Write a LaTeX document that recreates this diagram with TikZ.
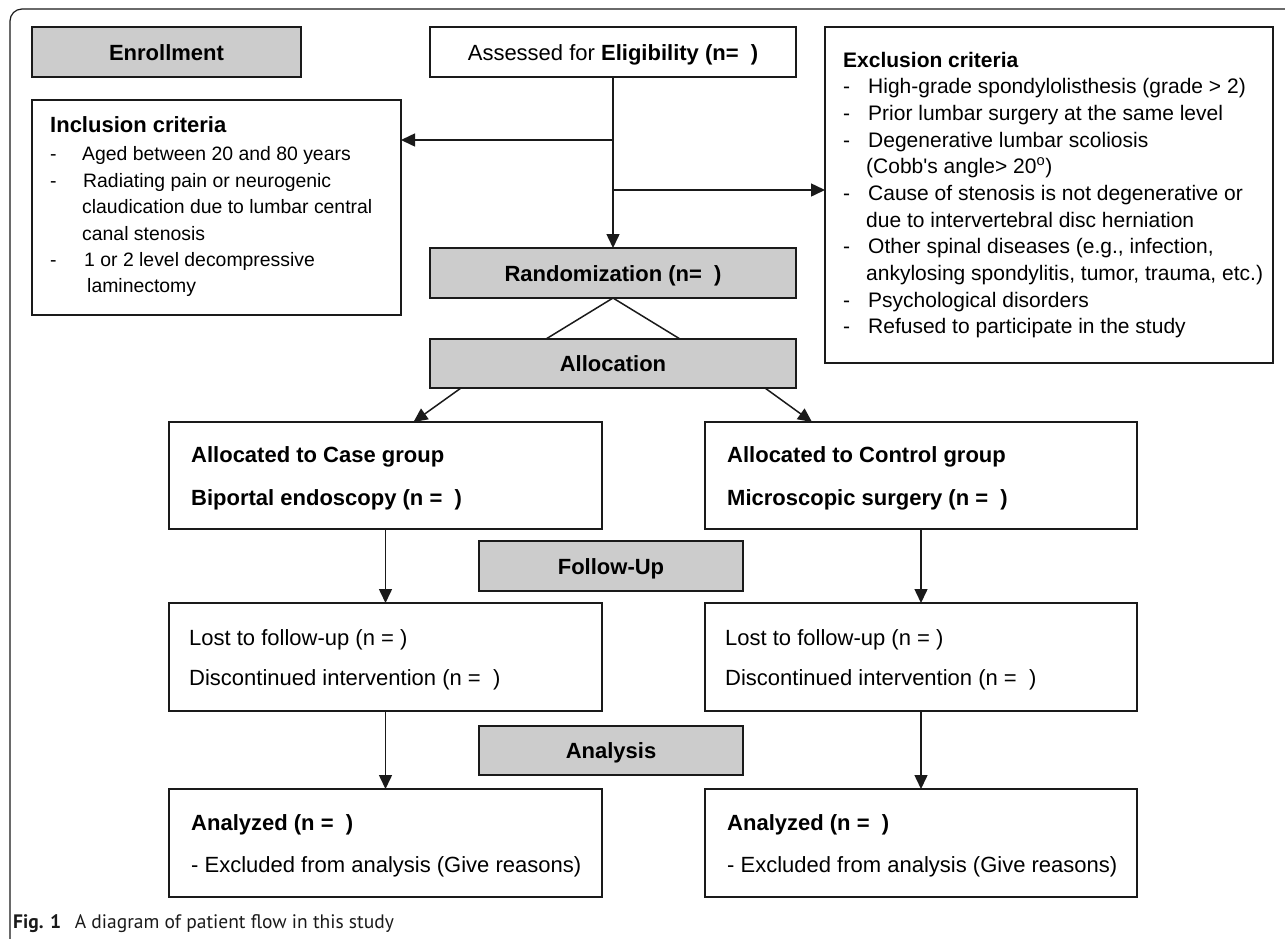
\documentclass[tikz,border=0pt]{standalone}
\usepackage{fontspec}
\setmainfont{Liberation Sans}
\newfontfamily\capfont{PT Sans}
\usetikzlibrary{arrows.meta}
\definecolor{boxgray}{HTML}{CCCCCC}
\definecolor{linecol}{HTML}{1A1A1A}
\begin{document}
\begin{tikzpicture}[x=1pt,y=-1pt,
  box/.style={draw=linecol, line width=1.6pt, fill=white, inner sep=0pt, outer sep=0pt,
              text height=16pt, text depth=0pt, font=\fontsize{22}{26}\selectfont},
  gbox/.style={box, fill=boxgray, font=\fontsize{22}{26}\selectfont\bfseries},
  arr/.style={line width=1.5pt, draw=linecol, -{Triangle[length=14pt,width=13pt]}},
  ln/.style={line width=1.5pt, draw=linecol},
  tx/.style={inner sep=0pt, anchor=base west, font=\fontsize{22}{26}\selectfont},
  bx/.style={inner sep=0pt, anchor=base west, font=\fontsize{22}{26}\selectfont\bfseries},
  ti/.style={inner sep=0pt, anchor=base west, font=\fontsize{19.4}{23}\selectfont},
  te/.style={inner sep=0pt, anchor=base west, font=\fontsize{21}{25}\selectfont},
  be/.style={inner sep=0pt, anchor=base west, font=\fontsize{21}{25}\selectfont\bfseries}
]
\useasboundingbox (0,0) rectangle (1285,938);
% outer frame
\draw[line width=1.2pt, draw=linecol, rounded corners=12pt] (10,940) -- (10,9) -- (1290,9);

% boxes
\node[gbox, minimum width=269pt, minimum height=50pt] (enroll) at (166.5,52) {Enrollment};
\node[box, minimum width=366pt, minimum height=50pt] (assess) at (613,52) {Assessed for \textbf{Eligibility (n=\ \ )}};
\node[box, minimum width=448pt, minimum height=336pt] (excl) at (1049,195) {};
\node[box, minimum width=369pt, minimum height=215pt] (incl) at (216.5,207.5) {};
\node[gbox, minimum width=366pt, minimum height=50pt] (random) at (613,273) {Randomization (n=\ \ )};
\node[gbox, minimum width=366pt, minimum height=49pt] (alloc) at (613,363.5) {Allocation};
\node[box, minimum width=433pt, minimum height=107pt] (case) at (385.5,475.5) {};
\node[box, minimum width=432pt, minimum height=107pt] (ctrl) at (921,475.5) {};
\node[gbox, minimum width=264pt, minimum height=50pt] (follow) at (611,566) {Follow-Up};
\node[box, minimum width=433pt, minimum height=108pt] (lostL) at (385.5,657) {};
\node[box, minimum width=432pt, minimum height=108pt] (lostR) at (921,657) {};
\node[gbox, minimum width=264pt, minimum height=49pt] (analysis) at (611,750.5) {Analysis};
\node[box, minimum width=433pt, minimum height=108pt] (anL) at (385.5,843) {};
\node[box, minimum width=432pt, minimum height=108pt] (anR) at (921,843) {};

% inclusion text
\node[bx] (inclh) at (50,132) {Inclusion criteria};
\node[ti] (i1d) at (50,160) {-};
\node[ti] (i1) at (82,160) {Aged between 20 and 80 years};
\node[ti] (i2d) at (50,187) {-};
\node[ti] (i2) at (83,187) {Radiating pain or neurogenic};
\node[ti] (i2b) at (82,213) {claudication due to lumbar central};
\node[ti] (i2c) at (82,240) {canal stenosis};
\node[ti] (i3d) at (50,266) {-};
\node[ti] (i3) at (84,266) {1 or 2 level decompressive};
\node[ti] (i3b) at (87,292) {laminectomy};

% exclusion text
\node[be] (exclh) at (843,67) {Exclusion criteria};
\node[te] (e1d) at (843,93) {-};
\node[te] (e1) at (868,93) {High-grade spondylolisthesis (grade > 2)};
\node[te] (e2d) at (843,120) {-};
\node[te] (e2) at (868,120) {Prior lumbar surgery at the same level};
\node[te] (e3d) at (843,147) {-};
\node[te] (e3) at (868,147) {Degenerative lumbar scoliosis};
\node[te] (e3b) at (866,173) {(Cobb\textquotesingle s angle> 20\textsuperscript{o})};
\node[te] (e4d) at (843,200) {-};
\node[te] (e4) at (868,200) {Cause of stenosis is not degenerative or};
\node[te] (e4b) at (866,227) {due to intervertebral disc herniation};
\node[te] (e5d) at (843,253) {-};
\node[te] (e5) at (868,253) {Other spinal diseases (e.g., infection,};
\node[te] (e5b) at (866,280) {ankylosing spondylitis, tumor, trauma, etc.)};
\node[te] (e6d) at (843,307) {-};
\node[te] (e6) at (868,307) {Psychological disorders};
\node[te] (e7d) at (843,333) {-};
\node[te] (e7) at (868,333) {Refused to participate in the study};

% group boxes text
\node[bx] (c1) at (191,462) {Allocated to Case group};
\node[bx] (c2) at (191,505) {Biportal endoscopy (n =\ \ )};
\node[bx] (k1) at (727,462) {Allocated to Control group};
\node[bx] (k2) at (727,505) {Microscopic surgery (n =\ \ )};
\node[tx] (l1) at (189,645) {Lost to follow-up (n = )};
\node[tx] (l2) at (189,685) {Discontinued intervention (n =\ \ )};
\node[tx] (r1) at (725,645) {Lost to follow-up (n = )};
\node[tx] (r2) at (725,685) {Discontinued intervention (n =\ \ )};
\node[bx] (a1) at (191,830) {Analyzed (n =\ \ )};
\node[tx] (a2) at (191,872) {- Excluded from analysis (Give reasons)};
\node[bx] (b1) at (727,830) {Analyzed (n =\ \ )};
\node[tx] (b2) at (727,872) {- Excluded from analysis (Give reasons)};

% caption
\node[inner sep=0pt, anchor=base west, font=\capfont\fontsize{19.5}{23}\selectfont, text=linecol] (cap) at (13,928)
  {\textbf{Fig. 1}\hspace{0.7em}A diagram of patient flow in this study};

% connectors
\coordinate (jL) at (613,140);
\coordinate (jR) at (613,190);
\draw[arr] (assess.south) -- (random.north);
\draw[arr] (jL) -- (jL -| incl.east);
\draw[arr] (jR) -- (jR -| excl.west);
\draw[ln] ([xshift=-67pt]alloc.north) -- (random.south) -- ([xshift=67pt]alloc.north);
\draw[arr] ([xshift=-152pt]alloc.south) -- ([xshift=28pt]case.north);
\draw[arr] ([xshift=152pt]alloc.south) -- ([xshift=-109pt]ctrl.north);
\draw[arr] (case.south) -- (lostL.north);
\draw[arr] (lostL.south) -- (anL.north);
\draw[arr] (ctrl.south) -- (lostR.north);
\draw[arr] (lostR.south) -- (anR.north);
\end{tikzpicture}
\end{document}
